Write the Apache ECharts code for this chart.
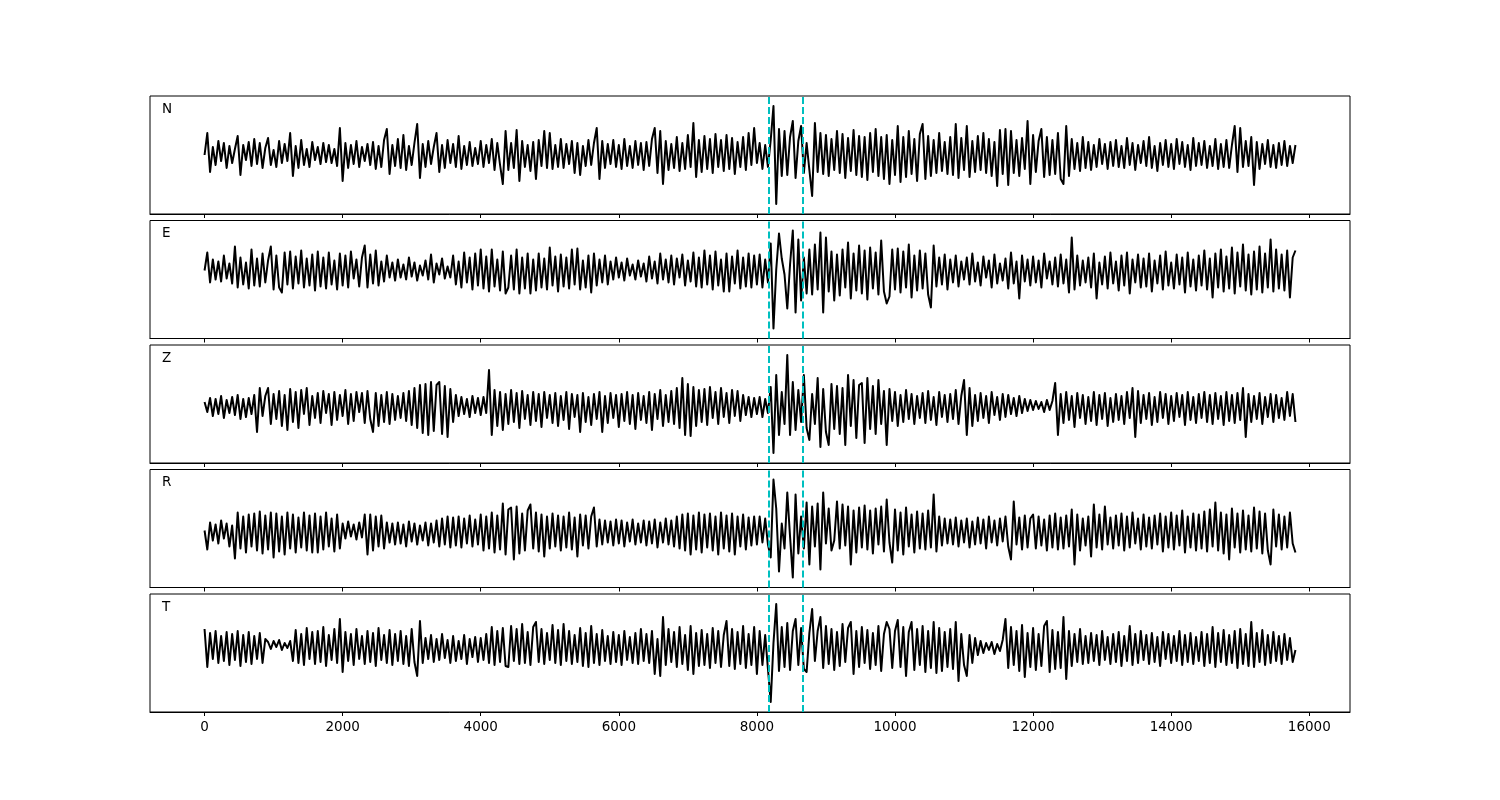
<!DOCTYPE html>
<html>
<head>
<meta charset="utf-8">
<script src="https://cdn.jsdelivr.net/npm/echarts@6/dist/echarts.min.js"></script>
<style>html,body{margin:0;padding:0;background:#fff}#c{width:1500px;height:800px}</style>
</head>
<body>
<div id="c"></div>
<script>
// Sampling (time axis): first sample and sample step
const t0 = 0;
const dt = 40;
// Time-window markers (dashed cyan lines)
const markers = [8175, 8670];
// Tick labels of the shared time axis
const xTicks = [0, 2000, 4000, 6000, 8000, 10000, 12000, 14000, 16000];
// Component names
const components = ['N', 'E', 'Z', 'R', 'T'];

// Amplitudes (one value every dt)
const traceN = [
0,22,-17,8,-10,14,-6,12,-13,9,
-8,6,19,-20,10,-5,13,-11,16,-9,
12,-13,7,17,-10,5,-12,14,-8,11,
-6,22,-21,9,-13,15,-10,6,-12,13,
-5,8,-9,12,-7,10,-8,6,-11,27,
-26,12,-13,10,-9,14,-12,8,-6,11,
-10,13,-14,9,-12,15,26,-19,10,-11,
16,-13,20,-15,9,-10,12,31,-23,11,
-12,14,-9,8,22,-17,10,-13,15,-8,
11,-12,19,-14,9,-10,13,-11,7,-9,
14,-12,10,-8,16,-15,12,-10,-29,24,
-15,12,-13,25,-26,14,-12,10,-16,13,
-24,15,-11,24,-13,22,-14,10,-12,16,
-13,11,-9,14,-18,12,-20,9,-11,15,
-10,12,27,-24,14,-13,11,-9,15,-12,
10,-14,16,-11,9,-13,14,-10,12,-15,
13,-11,16,27,-18,24,-29,14,-15,11,
-13,18,-16,12,-14,20,-12,32,-22,15,
-17,19,-14,16,-18,21,-12,15,-16,20,
-14,17,-19,13,-12,18,-15,22,-10,27,
-8,12,-14,10,-12,15,49,-49,26,-21,
24,-20,18,34,-23,14,29,-18,12,-15,
-41,32,-17,22,-19,20,-21,16,-15,24,
-18,21,-23,17,-16,25,-20,19,-22,18,
-25,22,-17,26,-21,18,-24,20,-29,15,
-20,29,-27,18,-22,24,-19,16,-26,21,
31,-24,19,-21,15,-18,22,-16,13,-19,
18,-20,31,-23,17,-15,29,-22,14,-17,
19,-15,22,-18,16,-21,13,-31,25,-19,
26,-30,24,-18,15,-21,17,-14,34,-29,
20,-17,14,26,-22,18,-20,15,-19,22,
-24,-29,29,-21,16,-14,12,-16,18,-13,
13,-15,10,-12,16,-9,11,-14,13,-11,
15,-12,9,-13,17,-10,12,-15,10,-8,
14,-11,18,-13,9,-16,12,-10,15,-12,
11,-14,16,-9,13,-12,10,-15,17,-11,
12,-10,14,-13,9,-11,16,-14,11,-12,
15,-13,10,29,-17,27,-12,14,-11,18,
-30,13,-14,11,-9,15,-12,10,-13,12,
-10,14,-11,9,-8,10];

const traceE = [
9,27,-3,20,0,18,-2,24,1,16,
-4,33,-8,22,-5,17,-9,30,-6,21,
-7,26,-3,19,33,-10,24,-8,-13,27,
-5,28,-9,23,-4,29,-8,21,-6,25,
-11,28,-7,22,-9,27,-5,19,-10,26,
-6,24,-8,28,1,20,-7,22,34,-8,
25,-4,29,-6,18,-2,24,2,17,-1,
20,2,15,0,22,3,17,-1,14,4,
19,0,25,-3,16,5,21,1,13,2,
24,-5,18,-8,27,-3,22,-10,26,-6,
30,-9,23,-12,30,-7,20,-11,28,-14,
-8,24,-10,30,-14,22,-9,26,-14,20,
-11,26,-8,21,-10,32,-6,23,-12,25,
-7,22,-9,30,-5,31,-10,19,-8,24,
-13,26,-6,20,-3,24,-5,18,0,22,
2,17,-1,21,4,15,0,19,3,16,
-2,23,1,18,-4,26,0,20,-3,24,
-5,21,2,25,-6,19,-2,27,-7,22,
-8,29,-5,24,-10,28,-6,20,-12,26,
-12,23,-4,29,-9,22,-7,26,-8,24,
-5,25,-8,20,-3,36,-49,10,46,21,
5,-29,15,49,-33,40,-21,22,-14,30,
-15,35,-10,47,-33,42,-12,28,-21,25,
-16,30,-8,37,-19,26,-11,34,-14,29,
-20,32,-9,27,-15,39,-12,-24,-17,30,
-10,31,-13,28,-8,35,-18,24,-11,29,
-9,26,-15,-28,34,-7,22,-5,25,-10,
20,-3,24,-7,18,0,22,-5,26,-2,
17,-6,23,2,19,-8,25,-4,16,-1,
21,-9,27,-4,18,-19,24,-2,20,-6,
23,-3,19,-8,26,1,18,-5,22,-7,
25,-4,20,-13,42,-10,24,-6,19,-3,
22,-8,26,-19,17,-5,23,-9,27,-4,
18,-11,24,-6,27,-14,20,-3,25,-8,
21,-7,26,-12,19,-4,24,-10,28,-6,
17,-9,25,-5,22,-13,27,-7,20,-11,
24,-6,29,-10,21,-18,26,-8,30,-12,
23,-9,32,-14,27,-7,35,-11,25,-15,
28,-10,33,-13,26,-8,40,-12,30,-9,
25,-11,29,-18,22,29];

const traceZ = [
2,-8,6,-12,5,-10,8,-14,4,-9,
7,-11,9,-15,5,-13,6,-10,9,-28,
16,-12,8,16,-20,10,-15,13,-22,9,
-26,15,-18,12,-24,14,-10,16,-21,8,
-14,11,-19,13,-9,10,-21,12,-16,9,
-12,14,-20,10,-17,12,-8,11,-19,13,
-15,-28,11,-22,9,-18,12,-20,10,-16,
8,-14,11,-17,13,-21,16,-24,19,-29,
20,-31,22,-27,19,22,-30,18,-33,15,
-18,9,-12,7,-10,5,-13,8,-9,6,
-11,7,-9,34,-31,14,-22,12,-26,10,
-20,14,-18,11,-24,13,-15,9,-21,12,
-17,10,-23,12,-14,9,-19,11,-22,8,
-16,12,-25,10,-13,9,-28,11,-18,7,
-21,10,-15,12,-28,8,-19,11,-14,9,
-23,10,-17,12,-20,9,-25,11,-16,8,
-19,12,-26,10,-15,14,-22,9,-18,13,
-20,16,-24,26,-31,20,-32,17,-22,14,
-18,15,-21,17,-14,12,-20,16,-13,11,
-19,14,-12,13,-17,9,-11,7,-13,6,
-10,7,-13,5,-9,17,-49,29,-31,12,
-20,49,-31,22,-26,14,-18,29,-24,-36,
10,-20,26,-43,15,-28,-41,20,-25,18,
-30,16,-41,29,-22,24,-34,19,21,-39,
26,-25,18,-30,24,-20,13,-41,15,-17,
12,-22,9,-18,14,-15,10,-20,8,-14,
11,-19,13,-16,7,-21,12,-13,9,-18,
10,-15,14,-20,8,24,-31,16,-22,9,
-17,11,-14,8,-19,12,-11,7,-16,10,
-13,9,-10,6,-12,8,-9,5,-7,4,
-6,3,-5,2,-8,4,-6,3,21,-31,
10,-19,12,-16,8,-23,11,-14,9,-20,
7,-17,12,-21,9,-15,11,-22,6,-18,
10,-16,8,-20,12,-14,16,-33,13,-19,
9,-15,11,-21,7,-18,12,-14,10,-20,
8,-17,11,-13,9,-21,12,-16,7,-19,
10,-14,12,-18,9,-20,11,-15,8,-21,
12,-17,9,-19,11,-16,16,-33,10,-18,
8,-15,11,-20,7,-13,10,-18,9,-14,
6,-16,12,-12,10,-18];

const traceR = [
-2,-21,6,-12,4,-15,8,-10,5,-18,
3,-30,16,-20,12,-24,14,-18,15,-22,
17,-25,13,-21,16,-29,15,-23,12,-26,
16,-20,14,-24,11,-19,16,-22,13,-24,
15,-24,12,-21,16,-18,10,-23,14,-20,
5,-10,7,-8,4,-11,6,-9,14,-26,
14,-22,12,-18,13,-20,6,-14,5,-16,
6,-15,4,-18,7,-13,5,-16,3,-12,
6,-17,5,-14,8,-18,10,-16,12,-19,
11,-17,12,-19,10,-15,13,-18,9,-16,
14,-22,12,-20,16,-24,13,-21,25,-26,
19,21,-31,22,-25,15,-22,18,24,-20,
16,-23,14,-28,12,-20,15,-18,13,-22,
12,-19,16,-21,11,-28,14,-17,13,-20,
12,21,-18,9,-16,8,-14,7,-17,9,
-15,8,-18,6,-13,9,-16,5,-14,8,
-17,7,-15,9,-19,6,-14,10,-16,8,
-18,12,-20,14,-22,15,-26,13,-21,16,
-24,14,-19,15,-22,12,-26,16,-20,13,
-23,15,-26,12,-18,14,-21,11,-17,12,
-16,12,-14,10,-16,-29,49,20,-43,5,
-20,36,-8,-49,34,-25,12,-20,26,-36,
22,-18,25,-41,36,-15,20,-22,-12,27,
-20,24,-17,22,-36,18,-24,21,-19,23,
-21,18,-25,20,-16,22,-23,29,-14,-34,
19,-22,16,-26,21,-18,14,-24,17,-20,
15,-21,18,-19,34,-23,12,-17,10,-15,
9,-16,11,-18,8,-14,10,-19,7,-16,
11,-15,9,-20,12,-14,8,-17,10,-13,
12,-18,-31,27,-16,11,-21,13,-19,10,
14,-20,12,-17,9,-22,13,-19,15,-21,
11,-20,13,-18,19,-36,14,-22,10,-17,
12,-28,24,-19,14,-21,22,-16,11,-20,
13,-17,15,-22,12,-19,16,-15,10,-21,
14,-18,11,-20,13,-16,15,-23,12,-19,
16,-21,13,-17,18,-24,12,-19,15,-22,
14,-20,17,-23,19,-18,26,-22,16,-25,
14,-31,20,-19,15,-24,18,-21,13,-23,
21,-20,17,-25,15,-22,-36,19,-18,14,
-21,12,-19,16,-15,-24];

const traceT = [
24,-14,20,-6,22,-10,17,-8,21,-12,
19,-7,22,-13,18,-9,21,-11,17,-6,
20,-10,14,11,4,12,6,13,3,10,
5,12,-8,23,-10,19,-12,25,-6,21,
-11,22,-9,26,-13,18,-7,24,-10,34,
-19,21,-8,19,-12,24,-6,17,-11,22,
-9,20,-13,25,-7,18,-10,23,-12,19,
-8,22,-11,17,-13,24,-9,-23,32,-10,
15,-6,18,-9,14,-7,19,-5,13,-10,
17,-8,12,-6,18,-11,14,-4,16,-9,
15,-7,19,-10,26,-12,22,-9,25,-13,
-14,27,-8,24,-11,29,-10,21,-12,26,
31,-9,24,-11,20,-7,28,-10,23,-12,
29,-8,22,-11,18,-9,25,-13,20,-14,
27,-10,19,-12,23,-8,17,-11,21,-9,
18,-12,22,-7,16,-10,20,-11,24,-8,
19,-10,22,-21,14,-23,36,-12,24,-9,
21,-14,26,-11,18,-17,27,-21,20,-13,
23,-12,19,-15,25,-10,22,-14,18,32,
-13,24,-16,21,-11,27,-15,19,-12,26,
-21,22,-12,18,-16,-49,10,49,-18,26,
-14,30,-17,22,34,-12,25,-16,-19,20,
44,-8,22,36,-15,27,-11,24,-17,21,
-13,29,-9,25,31,-21,22,-14,26,-10,
23,-16,20,-12,27,-18,19,31,24,-15,
22,33,-14,26,-23,21,31,-17,24,-12,
27,-19,22,-15,31,-20,25,-18,21,-14,
24,-16,31,-28,19,-12,-23,18,-10,15,
-2,12,0,10,3,11,-1,9,2,13,
34,-15,26,-12,22,-18,28,-24,20,-14,
25,-17,19,-13,27,32,-19,23,-16,21,
-15,36,-26,22,-13,19,-9,24,-11,17,
-10,20,-8,18,-12,22,-7,16,-11,19,
-9,21,-13,17,-8,27,-12,19,-10,22,
-7,18,-11,20,-9,16,-13,21,-6,19,
-10,17,-8,22,-12,18,-9,20,-11,16,
-8,21,-13,19,-10,26,-14,20,-9,23,
-12,18,-10,22,-15,24,-11,19,-13,31,
-14,20,-9,23,-12,18,-10,21,-8,17,
-11,19,-7,15,-9,3];

const traces = [traceN, traceE, traceZ, traceR, traceT];

// ---- layout ----
const gridLeft = 150, gridWidth = 1200, gridHeight = 118;
const gridTops = [96, 220.5, 345, 469.5, 594];
const xMin = -790, xMax = 16590;
const yLim = 59;

const grids = [], xAxes = [], yAxes = [], series = [], graphics = [];
traces.forEach((tr, k) => {
  const last = k === traces.length - 1;
  grids.push({
    left: gridLeft, top: gridTops[k], width: gridWidth, height: gridHeight,
    show: true, borderColor: '#000', borderWidth: 1, backgroundColor: 'transparent'
  });
  xAxes.push({
    type: 'value', gridIndex: k, min: xMin, max: xMax, position: 'bottom',
    axisLine: { show: true, onZero: false, lineStyle: { color: '#000', width: 1 } },
    splitLine: { show: false },
    axisTick: { show: true, inside: false, length: 4, lineStyle: { color: '#000', width: 1 }, customValues: xTicks },
    axisLabel: {
      show: last, customValues: xTicks, color: '#000', fontSize: 13.5,
      fontFamily: 'DejaVu Sans', margin: 8,
      formatter: v => String(v)
    }
  });
  yAxes.push({
    type: 'value', gridIndex: k, min: -yLim, max: yLim,
    axisLine: { show: false }, axisTick: { show: false },
    axisLabel: { show: false }, splitLine: { show: false }
  });
  series.push({
    type: 'line', xAxisIndex: k, yAxisIndex: k,
    data: tr.map((v, i) => [t0 + i * dt, v]),
    showSymbol: false, symbol: 'none', silent: true,
    lineStyle: { color: '#000', width: 2, join: 'round' },
    z: 2,
    markLine: {
      silent: true, symbol: 'none', label: { show: false },
      lineStyle: { color: '#00bfbf', type: [7, 3], width: 2 },
      data: markers.map(m => ({ xAxis: m })),
      z: 3
    }
  });
  graphics.push({
    type: 'text', left: 162, top: gridTops[k] + 6,
    style: { text: components[k], fill: '#000', font: '13.5px "DejaVu Sans"' }
  });
});

const chart = echarts.init(document.getElementById('c'), null, { renderer: 'canvas' });
chart.setOption({
  animation: false,
  backgroundColor: '#fff',
  grid: grids, xAxis: xAxes, yAxis: yAxes, series: series,
  graphic: graphics
});
</script>
</body>
</html>
